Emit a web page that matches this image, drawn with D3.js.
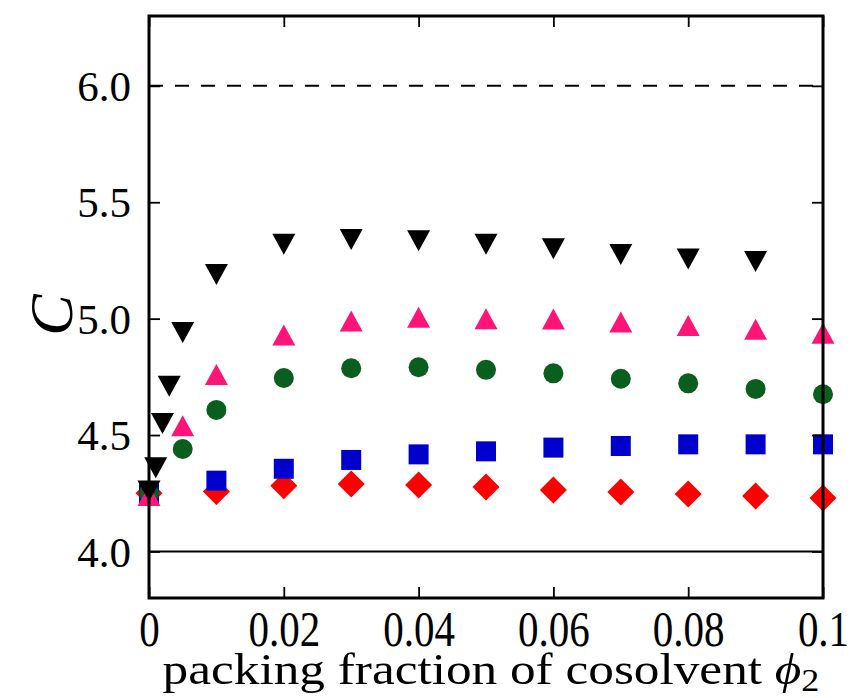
<!DOCTYPE html>
<html><head><meta charset="utf-8">
<script src="https://cdn.jsdelivr.net/npm/d3@7"></script>
<style>body{margin:0;background:#fff}svg{display:block}</style>
</head><body>
<svg id="c" width="850" height="698"></svg>
<script>
// ---- data ----
const xBlack = [0, 0.001, 0.002, 0.003, 0.005, 0.01, 0.02, 0.03, 0.04, 0.05, 0.06, 0.07, 0.08, 0.09];
const yBlack = [4.26, 4.36, 4.55, 4.71, 4.94, 5.19, 5.32, 5.34, 5.335, 5.32, 5.30, 5.276, 5.256, 5.245];
const xPink = [0, 0.005, 0.01, 0.02, 0.03, 0.04, 0.05, 0.06, 0.07, 0.08, 0.09, 0.1];
const yPink = [4.24, 4.54, 4.76, 4.93, 4.99, 5.006, 5.0, 4.998, 4.986, 4.97, 4.954, 4.937];
const xGreen = [0, 0.005, 0.01, 0.02, 0.03, 0.04, 0.05, 0.06, 0.07, 0.08, 0.09, 0.1];
const yGreen = [4.25, 4.44, 4.608, 4.745, 4.787, 4.791, 4.78, 4.765, 4.742, 4.722, 4.698, 4.675];
const xBlue = [0, 0.01, 0.02, 0.03, 0.04, 0.05, 0.06, 0.07, 0.08, 0.09, 0.1];
const yBlue = [4.25, 4.304, 4.355, 4.393, 4.417, 4.43, 4.446, 4.453, 4.46, 4.46, 4.46];
const xRed = [0, 0.01, 0.02, 0.03, 0.04, 0.05, 0.06, 0.07, 0.08, 0.09, 0.1];
const yRed = [4.25, 4.257, 4.282, 4.29, 4.285, 4.277, 4.264, 4.255, 4.247, 4.238, 4.23];
const xTicks = [0, 0.02, 0.04, 0.06, 0.08, 0.1];
const xTickLabels = ["0", "0.02", "0.04", "0.06", "0.08", "0.1"];
const yTicks = [4.0, 4.5, 5.0, 5.5, 6.0];
const yTickLabels = ["4.0", "4.5", "5.0", "5.5", "6.0"];
const refDashed = 6.0, refSolid = 4.0;

// ---- layout ----
const L = 149, R = 823, T = 16, B = 598;
const x = d3.scaleLinear().domain([0, 0.1]).range([L, R]);
const y = d3.scaleLinear().domain([3.8, 6.3]).range([B, T]);
const svg = d3.select("#c");
const serif = "'Liberation Serif','Times New Roman',serif";

// reference lines
svg.append("line").attr("x1", x(0)).attr("x2", x(0.1)).attr("y1", y(refDashed)).attr("y2", y(refDashed))
  .attr("stroke", "#000").attr("stroke-width", 2).attr("stroke-dasharray", "14,12");
svg.append("line").attr("x1", x(0)).attr("x2", x(0.1)).attr("y1", y(refSolid)).attr("y2", y(refSolid))
  .attr("stroke", "#000").attr("stroke-width", 2);

// marker shapes
const shapes = {
  tdown: "M-11.5,-10.5L11.5,-10.5L0,10.5Z",
  tup: "M-11.5,10.5L11.5,10.5L0,-10.5Z",
  square: "M-10,-10L10,-10L10,10L-10,10Z",
  diamond: "M0,-13.5L13.5,0L0,13.5L-13.5,0Z",
  circle: "M10,0A10,10 0 1,1 -10,0A10,10 0 1,1 10,0Z"
};
function series(xs, ys, shape, color) {
  svg.append("g").selectAll("path").data(xs.map((v, i) => [v, ys[i]])).join("path")
    .attr("d", shapes[shape])
    .attr("transform", d => `translate(${x(d[0])},${y(d[1])})`)
    .attr("fill", color);
}
series(xRed, yRed, "diamond", "#ff0000");
series(xBlue, yBlue, "square", "#0000cd");
series(xGreen, yGreen, "circle", "#0a5f1e");
series(xPink, yPink, "tup", "#ff1477");
series(xBlack, yBlack, "tdown", "#000000");

// axes (inward ticks)
const tk = 11;
const gB = svg.append("g").attr("transform", `translate(0,${B})`)
  .call(d3.axisBottom(x).tickValues(xTicks).tickSize(-tk).tickFormat((d, i) => xTickLabels[i]));
const gT = svg.append("g").attr("transform", `translate(0,${T})`)
  .call(d3.axisTop(x).tickValues(xTicks).tickSize(-tk).tickFormat(""));
const gL = svg.append("g").attr("transform", `translate(${L},0)`)
  .call(d3.axisLeft(y).tickValues(yTicks).tickSize(-tk).tickFormat((d, i) => yTickLabels[i]));
const gR = svg.append("g").attr("transform", `translate(${R},0)`)
  .call(d3.axisRight(y).tickValues(yTicks).tickSize(-tk).tickFormat(""));
[gB, gT, gL, gR].forEach(g => {
  g.select(".domain").remove();
  g.selectAll(".tick line").attr("stroke", "#000").attr("stroke-width", 1.8);
});
gL.selectAll(".tick text").attr("x", -18).attr("dy", "0.34em")
  .style("font-family", serif).style("font-size", "43px").attr("fill", "#000");
gB.selectAll(".tick text").attr("y", null).attr("dy", null)
  .attr("transform", "translate(0,48) scale(1,1.25)")
  .style("font-family", serif).style("font-size", "41px").attr("fill", "#000");

// frame
svg.append("rect").attr("x", L).attr("y", T).attr("width", R - L).attr("height", B - T)
  .attr("fill", "none").attr("stroke", "#000").attr("stroke-width", 3);

// x label
const xl = svg.append("text").attr("text-anchor", "middle")
  .style("font-family", serif).style("font-size", "37px").attr("fill", "#000");
xl.append("tspan").text("packing fraction of cosolvent ");
xl.append("tspan").attr("font-style", "italic").text("ϕ");
xl.append("tspan").attr("font-size", "26px").attr("dy", "6").text("2");
const bw = xl.node().getBBox().width;
const sx = 657 / bw;
xl.attr("transform", `translate(491,684) scale(${sx},1.22)`);

// y label
svg.append("text").attr("text-anchor", "middle")
  .attr("transform", "translate(72,315) rotate(-90)")
  .style("font-family", serif).style("font-size", "62px").style("font-style", "italic")
  .attr("fill", "#000").text("C");
</script>
</body></html>
